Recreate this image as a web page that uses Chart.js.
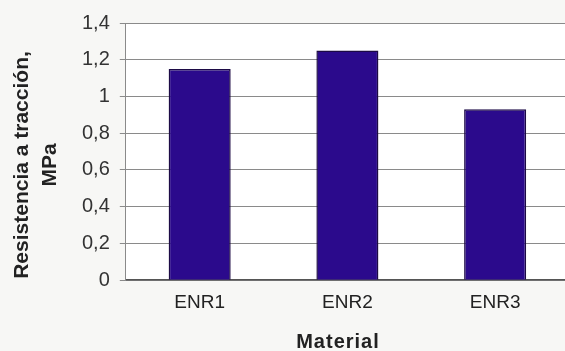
<!DOCTYPE html>
<html>
<head>
<meta charset="utf-8">
<script src="https://cdn.jsdelivr.net/npm/chart.js@4.4.1/dist/chart.umd.min.js"></script>
<style>
  html, body { margin: 0; padding: 0; background: #f7f7f5; overflow: hidden; }
  #wrap { position: relative; width: 569px; height: 351px; }
</style>
</head>
<body>
<div id="wrap"><canvas id="c"></canvas></div>
<script>
// Tensile strength per material
const categories = ['ENR1', 'ENR2', 'ENR3'];
const strength = [1.15, 1.25, 0.93];
const yTicks = [0, 0.2, 0.4, 0.6, 0.8, 1, 1.2, 1.4];
const yTitle = ['Resistencia a tracción,', 'MPa'];
const xTitle = 'Material';

// white plot background
const plotBg = {
  id: 'plotBg',
  beforeDraw(chart) {
    const { ctx, chartArea: a } = chart;
    ctx.save();
    ctx.fillStyle = '#ffffff';
    ctx.fillRect(a.left, a.top, a.right - a.left, a.bottom - a.top);
    ctx.restore();
  }
};

// axis titles, centred on the whole chart like a spreadsheet chart
const axisTitles = {
  id: 'axisTitles',
  afterDraw(chart) {
    const { ctx } = chart;
    ctx.save();
    ctx.fillStyle = '#222';
    ctx.font = 'bold 21px "Liberation Sans", Arial, sans-serif';
    ctx.textAlign = 'center';
    ctx.textBaseline = 'alphabetic';
    ctx.translate(0, 165);
    ctx.rotate(-Math.PI / 2);
    ctx.fillText(yTitle[0], 0, 28);
    ctx.fillText(yTitle[1], 0, 56);
    ctx.restore();

    ctx.save();
    ctx.fillStyle = '#222';
    ctx.font = 'bold 20px "Liberation Sans", Arial, sans-serif';
    ctx.letterSpacing = '1px';
    ctx.textAlign = 'center';
    ctx.textBaseline = 'alphabetic';
    ctx.fillText(xTitle, 338, 348);
    ctx.restore();
  }
};

const fmt = v => String(v).replace('.', ',');

new Chart(document.getElementById('c'), {
  type: 'bar',
  data: {
    labels: categories,
    datasets: [{
      data: strength,
      backgroundColor: '#2b0a8c',
      borderColor: '#1c0a45',
      borderWidth: 1.5,
      barPercentage: 0.42,
      categoryPercentage: 1
    }]
  },
  options: {
    responsive: true,
    maintainAspectRatio: false,
    animation: false,
    layout: { padding: { top: 23, right: 0, bottom: 26, left: 72 } },
    plugins: { legend: { display: false }, tooltip: { enabled: false } },
    scales: {
      x: {
        grid: { display: false, drawTicks: false },
        border: { display: true, color: '#555', width: 1.5 },
        ticks: {
          color: '#222',
          padding: 11,
          font: { family: 'Liberation Sans, Arial', size: 19 }
        }
      },
      y: {
        min: 0,
        max: 1.4,
        afterBuildTicks(scale) { scale.ticks = yTicks.map(v => ({ value: v })); },
        grid: { color: '#8a8a8a', lineWidth: 1, tickLength: 6 },
        border: { display: true, color: '#8a8a8a', width: 1 },
        ticks: {
          color: '#333',
          padding: 10,
          callback: v => fmt(v),
          font: { family: 'Liberation Sans, Arial', size: 20 }
        }
      }
    }
  },
  plugins: [plotBg, axisTitles]
});
</script>
</body>
</html>
